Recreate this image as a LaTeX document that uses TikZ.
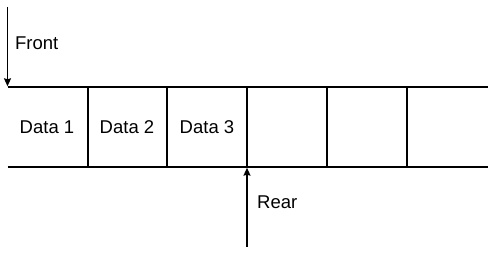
\documentclass[tikz,border=0pt]{standalone}
\usepackage{fontspec}
\setmainfont{Liberation Sans}
\usetikzlibrary{arrows.meta}
\begin{document}
\begin{tikzpicture}[x=1pt, y=-1pt, >={Stealth[length=8pt, width=7pt, inset=1pt]}, line width=1.3pt, font=\fontsize{18.5}{22}\selectfont]
				\useasboundingbox (0, 0) rectangle (488, 256);
				\coordinate (tl) at (7.5, 87);
				\coordinate (tr) at (488, 87);
				\coordinate (bl) at (7.5, 167);
				\coordinate (br) at (488, 167);
				\coordinate (fronttop) at (7.5, 7);
				\coordinate (rearbot) at (247, 247);
				\coordinate (reartop) at (247, 167);
				\draw (tl) -- (tr);
				\draw (bl) -- (br);
				\draw (88, 87) -- (88, 167);
				\draw (167, 87) -- (167, 167);
				\draw (247, 87) -- (247, 167);
				\draw (327, 87) -- (327, 167);
				\draw (407, 87) -- (407, 167);
				\draw[->, shorten >=0.7pt] (fronttop) -- (tl);
				\draw[->, shorten >=0.7pt] (rearbot) -- (reartop);
				\node (data1) at (47, 127) {Data 1};
				\node (data2) at (127, 127) {Data 2};
				\node (data3) at (207, 127) {Data 3};
				\node[anchor=west, inner sep=0pt] (front) at (14.5, 43) {Front};
				\node[anchor=west, inner sep=0pt] (rear) at (256.5, 202) {Rear};
			\end{tikzpicture}
\end{document}
